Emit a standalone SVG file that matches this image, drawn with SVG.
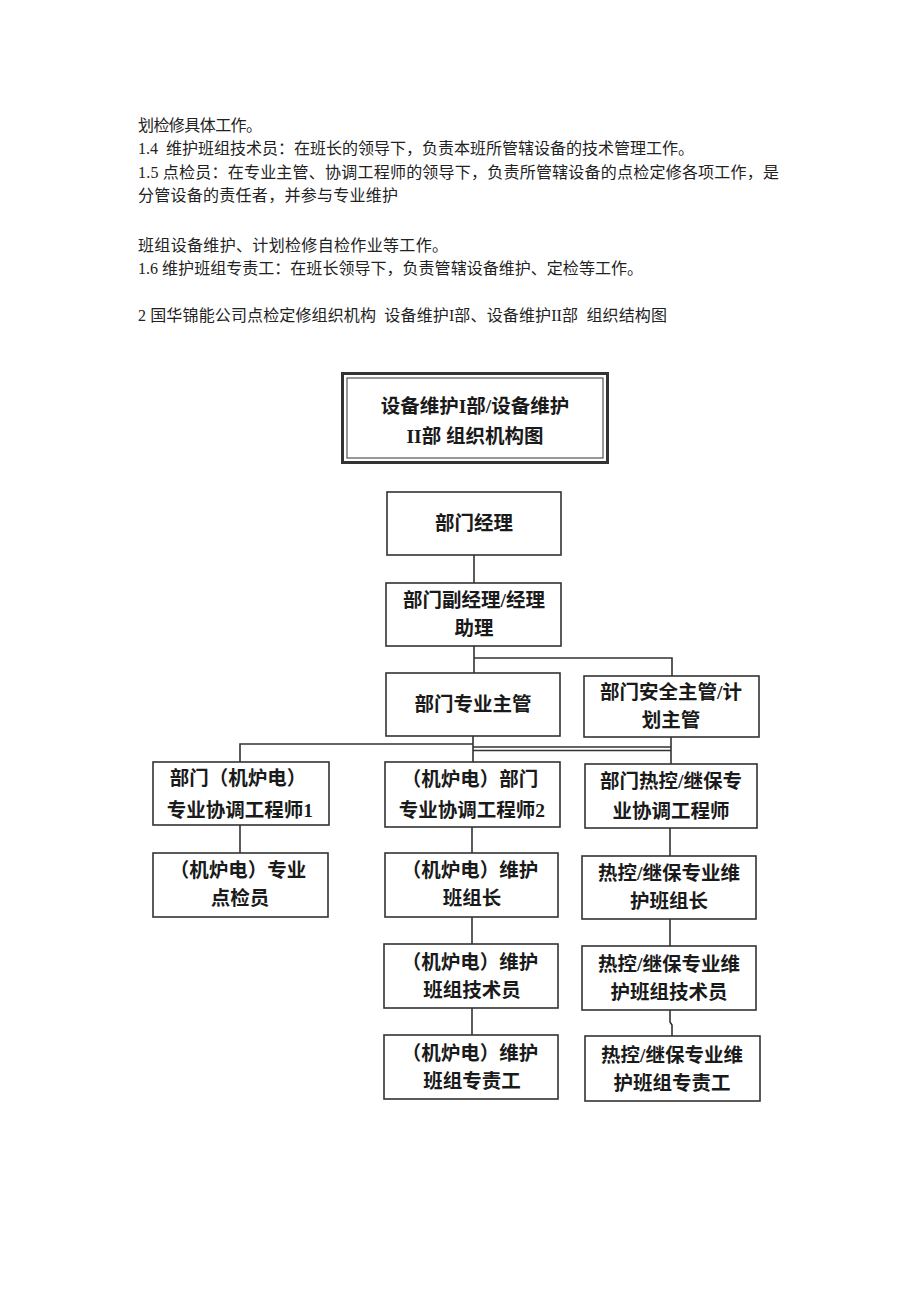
<svg xmlns="http://www.w3.org/2000/svg" width="920" height="1302" viewBox="0 0 920 1302">
<style>
.p{font-family:"Liberation Serif","Noto Sans CJK SC",serif;font-size:16px;fill:#222;white-space:pre}
.b{fill:#fff;stroke:#333;stroke-width:1.6}
.t{font-family:"Liberation Serif","Noto Sans CJK SC",serif;font-size:19.5px;font-weight:700;fill:#1a1a1a;text-anchor:middle}
.c{fill:none;stroke:#333;stroke-width:1.6}
</style>
<rect width="920" height="1302" fill="#fff"/>
<g id="paragraph">
<text class="p" x="138" y="131" textLength="124">划检修具体工作。</text>
<text class="p" x="138" y="154" textLength="556" xml:space="preserve">1.4  维护班组技术员：在班长的领导下，负责本班所管辖设备的技术管理工作。</text>
<text class="p" x="138" y="178" textLength="641">1.5 点检员：在专业主管、协调工程师的领导下，负责所管辖设备的点检定修各项工作，是</text>
<text class="p" x="138" y="201" textLength="260">分管设备的责任者，并参与专业维护</text>
<text class="p" x="138" y="251" textLength="310">班组设备维护、计划检修自检作业等工作。</text>
<text class="p" x="138" y="274" textLength="505">1.6 维护班组专责工：在班长领导下，负责管辖设备维护、定检等工作。</text>
<text class="p" x="138" y="321" textLength="529" xml:space="preserve">2 国华锦能公司点检定修组织机构  设备维护I部、设备维护II部  组织结构图</text>
</g>
<g id="connectors">
<path class="c" d="M474,555 V583"/>
<path class="c" d="M474,646 V673"/>
<path class="c" d="M474,658 H672 V676"/>
<path class="c" d="M473,736 V762"/>
<path class="c" d="M240,762 V744 H473"/>
<path class="c" d="M473,747 H671 M473,750.5 H671"/>
<path class="c" d="M671,737 V764"/>
<path class="c" d="M240,825 V853"/>
<path class="c" d="M472,827 V853"/>
<path class="c" d="M472,917 V944"/>
<path class="c" d="M472,1008 V1035"/>
<path class="c" d="M670,828 V856"/>
<path class="c" d="M670,919 V946"/>
<path class="c" d="M670,1010 V1022 L672,1025 V1036"/>
</g>
<g id="title">
<rect x="342.5" y="373.5" width="265" height="89" fill="#fff" stroke="#333" stroke-width="3"/>
<rect x="347" y="378" width="256" height="80" fill="none" stroke="#333" stroke-width="1"/>
<text class="t" x="475" y="413">设备维护I部/设备维护</text>
<text class="t" x="475" y="443">II部 组织机构图</text>
</g>
<g id="n1"><rect class="b" x="387" y="492" width="174" height="63"/><text class="t" x="474" y="530">部门经理</text></g>
<g id="n2"><rect class="b" x="386" y="583" width="175" height="63"/><text class="t" x="474" y="607">部门副经理/经理</text><text class="t" x="474" y="635">助理</text></g>
<g id="n3"><rect class="b" x="386" y="673" width="174" height="63"/><text class="t" x="473" y="711">部门专业主管</text></g>
<g id="n4"><rect class="b" x="584" y="676" width="175" height="61"/><text class="t" x="671" y="699">部门安全主管/计</text><text class="t" x="671" y="727">划主管</text></g>
<g id="n5"><rect class="b" x="153" y="762" width="176" height="63"/><text class="t" x="238" y="785">部门（机炉电）</text><text class="t" x="240" y="817">专业协调工程师1</text></g>
<g id="n6"><rect class="b" x="385" y="762" width="175" height="65"/><text class="t" x="470" y="786">（机炉电）部门</text><text class="t" x="472" y="817">专业协调工程师2</text></g>
<g id="n7"><rect class="b" x="585" y="764" width="172" height="64"/><text class="t" x="671" y="788">部门热控/继保专</text><text class="t" x="671" y="818">业协调工程师</text></g>
<g id="n8"><rect class="b" x="153" y="853" width="175" height="64"/><text class="t" x="238" y="877">（机炉电）专业</text><text class="t" x="240" y="905">点检员</text></g>
<g id="n9"><rect class="b" x="385" y="853" width="173" height="64"/><text class="t" x="470" y="877">（机炉电）维护</text><text class="t" x="472" y="905">班组长</text></g>
<g id="n10"><rect class="b" x="582" y="856" width="174" height="63"/><text class="t" x="669" y="880">热控/继保专业维</text><text class="t" x="669" y="908">护班组长</text></g>
<g id="n11"><rect class="b" x="384" y="944" width="174" height="64"/><text class="t" x="470" y="969">（机炉电）维护</text><text class="t" x="472" y="997">班组技术员</text></g>
<g id="n12"><rect class="b" x="582" y="946" width="174" height="64"/><text class="t" x="669" y="971">热控/继保专业维</text><text class="t" x="669" y="999">护班组技术员</text></g>
<g id="n13"><rect class="b" x="384" y="1035" width="174" height="64"/><text class="t" x="470" y="1060">（机炉电）维护</text><text class="t" x="472" y="1088">班组专责工</text></g>
<g id="n14"><rect class="b" x="585" y="1036" width="175" height="65"/><text class="t" x="672" y="1062">热控/继保专业维</text><text class="t" x="672" y="1090">护班组专责工</text></g>
</svg>
